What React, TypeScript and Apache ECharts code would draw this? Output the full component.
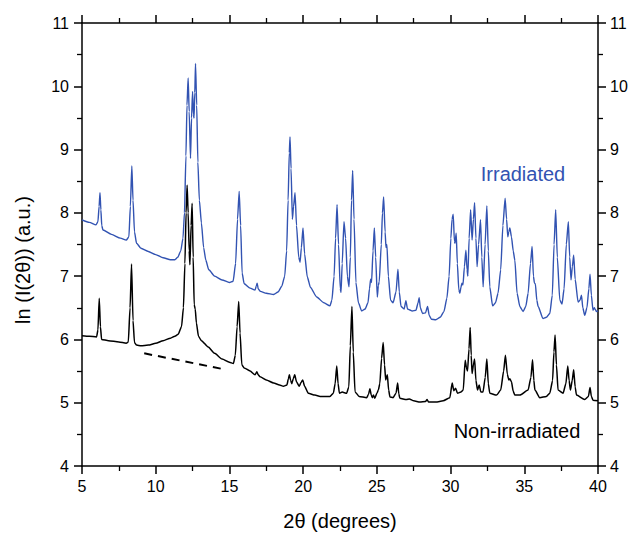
import React, { useEffect, useRef } from "react";
import * as echarts from "echarts";

const xTicks = [5, 10, 15, 20, 25, 30, 35, 40];
const yTicks = [4, 5, 6, 7, 8, 9, 10, 11];

const irradiated: [number, number][] = [
  [5.0, 7.89], [5.5, 7.85], [5.95, 7.81], [6.08, 7.86], [6.16, 8.1], [6.22, 8.32], [6.28, 8.05], [6.34, 7.8], [6.42, 7.73],
  [7.0, 7.66], [7.6, 7.6], [8.0, 7.57], [8.18, 7.62], [8.28, 8.1], [8.38, 8.74], [8.46, 8.2], [8.56, 7.7], [8.7, 7.52],
  [9.0, 7.44], [9.5, 7.39], [10.0, 7.34], [10.5, 7.29], [11.0, 7.26], [11.3, 7.26], [11.5, 7.3], [11.7, 7.4], [11.85, 7.6],
  [11.95, 8.0], [12.05, 8.9], [12.12, 9.7], [12.2, 10.13], [12.27, 9.6], [12.36, 8.86], [12.43, 9.5], [12.5, 9.92],
  [12.56, 9.55], [12.6, 9.5], [12.65, 9.9], [12.7, 10.36], [12.78, 9.7], [12.86, 8.8], [12.96, 8.2], [13.1, 7.84],
  [13.25, 7.45], [13.4, 7.25], [13.6, 7.1], [14.0, 7.0], [14.5, 6.94], [15.0, 6.9], [15.25, 6.92], [15.42, 7.2],
  [15.55, 7.9], [15.66, 8.34], [15.76, 7.8], [15.86, 7.05], [16.0, 6.88], [16.4, 6.81], [16.74, 6.78], [16.82, 6.84],
  [16.88, 6.89], [16.95, 6.8], [17.1, 6.76], [17.5, 6.73], [18.0, 6.71], [18.3, 6.75], [18.55, 6.84], [18.75, 7.0],
  [18.88, 7.4], [18.98, 8.2], [19.06, 8.95], [19.11, 9.2], [19.18, 8.7], [19.27, 7.9], [19.35, 8.1], [19.45, 8.32],
  [19.55, 7.8], [19.7, 7.3], [19.79, 7.22], [19.88, 7.45], [19.99, 7.76], [20.1, 7.35], [20.28, 6.99], [20.5, 6.82],
  [20.92, 6.67], [21.4, 6.58], [21.82, 6.53], [21.95, 6.62], [22.1, 7.0], [22.2, 7.6], [22.3, 8.13], [22.4, 7.5],
  [22.52, 6.8], [22.57, 6.74], [22.65, 7.2], [22.77, 7.86], [22.88, 7.6], [23.0, 7.0], [23.11, 6.83], [23.2, 7.3],
  [23.28, 8.2], [23.36, 8.67], [23.45, 7.9], [23.58, 6.9], [23.75, 6.58], [23.97, 6.45], [24.2, 6.48], [24.4, 6.58],
  [24.5, 6.8], [24.58, 6.95], [24.64, 6.9], [24.74, 7.4], [24.83, 7.76], [24.92, 7.3], [25.03, 6.67], [25.1, 6.85],
  [25.16, 6.91], [25.3, 7.5], [25.38, 8.0], [25.46, 8.25], [25.56, 7.7], [25.62, 7.45], [25.68, 7.5], [25.78, 7.0],
  [25.93, 6.62], [26.1, 6.58], [26.3, 6.75], [26.43, 7.11], [26.52, 6.75], [26.64, 6.52], [26.85, 6.48], [26.97, 6.61],
  [27.08, 6.48], [27.2, 6.47], [27.4, 6.45], [27.65, 6.46], [27.8, 6.58], [27.87, 6.66], [27.95, 6.5], [28.1, 6.41],
  [28.3, 6.42], [28.44, 6.52], [28.55, 6.38], [28.7, 6.32], [29.0, 6.31], [29.3, 6.35], [29.55, 6.44], [29.75, 6.65],
  [29.9, 7.0], [30.02, 7.6], [30.1, 7.9], [30.18, 7.98], [30.26, 7.55], [30.3, 7.52], [30.38, 7.68], [30.46, 7.2],
  [30.56, 6.78], [30.63, 6.73], [30.7, 6.82], [30.77, 6.89], [30.84, 6.86], [30.94, 7.15], [31.04, 7.41], [31.12, 7.1],
  [31.17, 7.0], [31.26, 7.6], [31.36, 8.05], [31.46, 7.57], [31.55, 7.9], [31.63, 8.16], [31.72, 7.6], [31.8, 7.15],
  [31.9, 7.5], [32.03, 7.89], [32.12, 7.3], [32.21, 6.83], [32.34, 7.5], [32.46, 8.11], [32.56, 7.4], [32.66, 6.83],
  [32.85, 6.53], [33.05, 6.58], [33.22, 6.73], [33.4, 7.1], [33.55, 7.8], [33.7, 8.23], [33.8, 7.9], [33.88, 7.62],
  [33.95, 7.7], [34.02, 7.76], [34.13, 7.62], [34.25, 7.4], [34.36, 7.25], [34.51, 6.73], [34.7, 6.52], [34.92, 6.44],
  [35.1, 6.52], [35.26, 6.73], [35.42, 7.2], [35.53, 7.47], [35.62, 7.0], [35.69, 6.89], [35.75, 6.88], [35.85, 6.62],
  [35.94, 6.52], [36.27, 6.33], [36.5, 6.35], [36.73, 6.41], [36.9, 6.7], [37.02, 7.5], [37.13, 8.05], [37.24, 7.3],
  [37.41, 6.62], [37.56, 6.56], [37.7, 6.8], [37.85, 7.5], [37.99, 7.86], [38.08, 7.3], [38.17, 6.94], [38.26, 7.15],
  [38.35, 7.33], [38.45, 6.95], [38.65, 6.59], [38.78, 6.62], [38.88, 6.7], [38.97, 6.5], [39.1, 6.38], [39.25, 6.5],
  [39.38, 6.8], [39.46, 7.03], [39.55, 6.7], [39.66, 6.46], [39.75, 6.5], [39.82, 6.47], [39.9, 6.44], [40.0, 6.45],
];

const nonIrradiated: [number, number][] = [
  [5.0, 6.06], [5.5, 6.05], [5.99, 6.04], [6.08, 6.15], [6.17, 6.65], [6.25, 6.2], [6.33, 6.0], [6.8, 5.98], [7.5, 5.96],
  [8.0, 5.94], [8.14, 5.96], [8.26, 6.5], [8.36, 7.19], [8.46, 6.3], [8.56, 5.95], [8.7, 5.91], [9.0, 5.9], [9.5, 5.91],
  [10.0, 5.94], [10.5, 5.98], [11.0, 6.02], [11.3, 6.05], [11.52, 6.08], [11.75, 6.2], [11.88, 6.5], [11.98, 7.2],
  [12.06, 8.0], [12.13, 8.44], [12.2, 8.0], [12.27, 7.4], [12.32, 7.18], [12.4, 7.8], [12.47, 8.15], [12.54, 7.3],
  [12.61, 6.55], [12.68, 6.48], [12.76, 6.26], [12.9, 6.05], [13.1, 5.98], [13.56, 5.88], [14.0, 5.78], [14.5, 5.69],
  [15.0, 5.64], [15.27, 5.62], [15.4, 5.75], [15.52, 6.2], [15.63, 6.6], [15.72, 6.1], [15.84, 5.6], [16.0, 5.55],
  [16.4, 5.5], [16.74, 5.44], [16.86, 5.49], [16.95, 5.44], [17.08, 5.41], [17.5, 5.36], [18.0, 5.31], [18.4, 5.28],
  [18.66, 5.26], [18.9, 5.28], [19.0, 5.38], [19.07, 5.44], [19.15, 5.35], [19.23, 5.3], [19.33, 5.38], [19.43, 5.44],
  [19.55, 5.33], [19.74, 5.26], [19.86, 5.32], [19.97, 5.36], [20.1, 5.26], [20.35, 5.15], [20.8, 5.12], [21.15, 5.1],
  [21.82, 5.1], [22.05, 5.15], [22.17, 5.3], [22.28, 5.58], [22.37, 5.3], [22.46, 5.15], [22.65, 5.17], [22.75, 5.16],
  [22.95, 5.15], [23.1, 5.25], [23.2, 5.9], [23.31, 6.52], [23.4, 5.8], [23.52, 5.17], [23.8, 5.1], [24.31, 5.08],
  [24.43, 5.13], [24.53, 5.22], [24.62, 5.12], [24.69, 5.08], [24.77, 5.12], [24.86, 5.07], [25.0, 5.15], [25.1, 5.2],
  [25.2, 5.3], [25.32, 5.7], [25.43, 5.95], [25.52, 5.6], [25.6, 5.36], [25.71, 5.44], [25.8, 5.2], [25.89, 5.09],
  [26.1, 5.08], [26.3, 5.15], [26.41, 5.31], [26.49, 5.14], [26.56, 5.07], [27.0, 5.05], [27.2, 5.06], [27.5, 5.03],
  [27.92, 5.01], [28.3, 5.02], [28.41, 5.05], [28.5, 5.01], [29.0, 5.01], [29.5, 5.03], [29.95, 5.08], [30.11, 5.31],
  [30.22, 5.19], [30.34, 5.23], [30.47, 5.15], [30.7, 5.17], [30.86, 5.2], [30.99, 5.67], [31.08, 5.55], [31.15, 5.5],
  [31.25, 5.85], [31.33, 6.19], [31.4, 5.75], [31.46, 5.46], [31.55, 5.6], [31.63, 5.69], [31.72, 5.35], [31.83, 5.2],
  [31.94, 5.28], [32.05, 5.17], [32.2, 5.17], [32.35, 5.4], [32.46, 5.69], [32.56, 5.3], [32.66, 5.15], [33.12, 5.12],
  [33.4, 5.2], [33.6, 5.5], [33.72, 5.75], [33.85, 5.45], [33.95, 5.36], [34.02, 5.38], [34.13, 5.33], [34.25, 5.18],
  [34.36, 5.12], [34.7, 5.12], [35.26, 5.2], [35.45, 5.4], [35.56, 5.68], [35.65, 5.35], [35.72, 5.2], [36.05, 5.08],
  [36.5, 5.1], [36.73, 5.15], [36.92, 5.35], [37.01, 5.8], [37.09, 6.07], [37.18, 5.6], [37.29, 5.2], [37.63, 5.15],
  [37.82, 5.3], [37.95, 5.58], [38.04, 5.35], [38.13, 5.2], [38.25, 5.35], [38.35, 5.52], [38.45, 5.25], [38.54, 5.12],
  [39.1, 5.05], [39.35, 5.1], [39.46, 5.24], [39.55, 5.1], [39.66, 5.04], [40.0, 5.03],
];

const baselineGuide: [number, number][] = [
  [9.22, 5.78],
  [14.6, 5.53],
];

const BLUE = "#3253b2";
const FONT = "'Liberation Sans', Arial, sans-serif";

export default function App() {
  const ref = useRef<HTMLDivElement>(null);

  useEffect(() => {
    document.body.style.margin = "0";
    if (!ref.current) return;
    const chart = echarts.init(ref.current, undefined, { renderer: "svg" });

    const axisLine = { show: true, onZero: false, lineStyle: { color: "#000", width: 1.5 } };
    const axisTick = { show: true, inside: false, length: 8, lineStyle: { color: "#000", width: 1.5 } };
    const minorTick = { show: true, splitNumber: 2, length: 5, lineStyle: { color: "#000", width: 1.3 } };
    const labelStyle = { color: "#000", fontSize: 16, fontFamily: FONT };

    const xBase = {
      type: "value" as const,
      min: xTicks[0],
      max: xTicks[xTicks.length - 1],
      interval: 5,
      axisLine,
      axisTick,
      minorTick,
      splitLine: { show: false },
    };
    const yBase = {
      type: "value" as const,
      min: yTicks[0],
      max: yTicks[yTicks.length - 1],
      interval: 1,
      axisLine,
      axisTick,
      minorTick,
      splitLine: { show: false },
    };

    chart.setOption({
      animation: false,
      backgroundColor: "#fff",
      grid: { left: 82, right: 34, top: 23, bottom: 67, containLabel: false },
      xAxis: [
        { ...xBase, position: "bottom", axisLabel: { ...labelStyle, margin: 12 } },
        { ...xBase, position: "top", axisLabel: { show: false } },
      ],
      yAxis: [
        { ...yBase, position: "left", axisLabel: { ...labelStyle, margin: 13 } },
        { ...yBase, position: "right", axisLabel: { ...labelStyle, margin: 12 } },
      ],
      series: [
        {
          name: "Irradiated",
          type: "line",
          data: irradiated,
          showSymbol: false,
          symbol: "none",
          smooth: 0.2,
          smoothMonotone: "x",
          lineStyle: { color: BLUE, width: 1.4 },
          z: 3,
        },
        {
          name: "Non-irradiated",
          type: "line",
          data: nonIrradiated,
          showSymbol: false,
          symbol: "none",
          smooth: 0.2,
          smoothMonotone: "x",
          lineStyle: { color: "#000", width: 1.5 },
          z: 3,
        },
        {
          name: "guide",
          type: "line",
          data: baselineGuide,
          showSymbol: false,
          symbol: "none",
          lineStyle: { color: "#000", width: 2, type: [8, 6] },
          z: 2,
        },
      ],
      graphic: [
        {
          type: "text",
          x: 23,
          y: 260,
          rotation: Math.PI / 2,
          style: {
            text: "ln (I(2θ)) (a.u.)",
            fontSize: 20,
            fontFamily: FONT,
            fill: "#000",
            align: "center",
            verticalAlign: "middle",
          },
        },
        {
          type: "text",
          x: 340,
          y: 521,
          style: {
            text: "2θ (degrees)",
            fontSize: 20,
            fontFamily: FONT,
            fill: "#000",
            align: "center",
            verticalAlign: "middle",
          },
        },
        {
          type: "text",
          x: 523,
          y: 174,
          style: {
            text: "Irradiated",
            fontSize: 20,
            fontFamily: FONT,
            fill: BLUE,
            align: "center",
            verticalAlign: "middle",
          },
        },
        {
          type: "text",
          x: 517,
          y: 431,
          style: {
            text: "Non-irradiated",
            fontSize: 20,
            fontFamily: FONT,
            fill: "#000",
            align: "center",
            verticalAlign: "middle",
          },
        },
      ],
    });

    return () => {
      chart.dispose();
    };
  }, []);

  return <div ref={ref} style={{ width: 632, height: 533 }} />;
}
